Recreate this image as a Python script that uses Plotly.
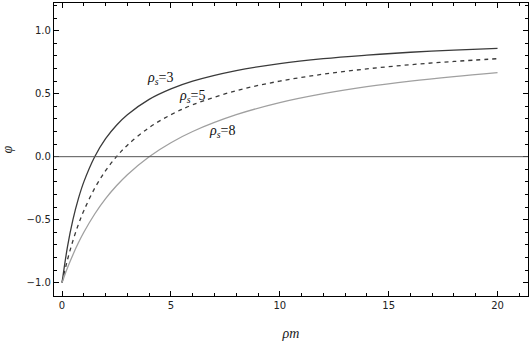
import plotly.graph_objects as go

rho_m = [0, 0.25, 0.5, 0.75, 1, 1.5, 2, 2.5, 3, 4, 5, 6, 8, 10, 12, 14, 16, 18, 20]
phi_rs3 = [-1.0, -0.714, -0.5, -0.333, -0.2, 0.0, 0.143, 0.25, 0.333, 0.455, 0.538, 0.6,
           0.684, 0.739, 0.778, 0.806, 0.829, 0.846, 0.86]
phi_rs5 = [-1.0, -0.818, -0.667, -0.538, -0.429, -0.25, -0.111, 0.0, 0.091, 0.231, 0.333, 0.412,
           0.524, 0.6, 0.655, 0.697, 0.73, 0.756, 0.778]
phi_rs8 = [-1.0, -0.882, -0.778, -0.684, -0.6, -0.455, -0.333, -0.231, -0.143, 0.0, 0.111, 0.2,
           0.333, 0.429, 0.5, 0.556, 0.6, 0.636, 0.667]

labels = ["<i>ρ<sub>s</sub></i>=3", "<i>ρ<sub>s</sub></i>=5", "<i>ρ<sub>s</sub></i>=8"]
label_x = [4.5, 5.95, 7.35]
label_y = [0.622, 0.48, 0.2]

fig = go.Figure()
fig.add_trace(go.Scatter(x=rho_m, y=phi_rs3, mode="lines", line=dict(color="#3a3a3a", width=1.3, shape="spline")))
fig.add_trace(go.Scatter(x=rho_m, y=phi_rs5, mode="lines", line=dict(color="#3a3a3a", width=1.3, dash="4px,4px", shape="spline")))
fig.add_trace(go.Scatter(x=rho_m, y=phi_rs8, mode="lines", line=dict(color="#a0a0a0", width=1.3, shape="spline")))

for t, x, y in zip(labels, label_x, label_y):
    fig.add_annotation(x=x, y=y, text=t, showarrow=False,
                       font=dict(family="Liberation Serif", size=14, color="#111"))

fig.add_hline(y=0, line=dict(color="#555", width=1))

axis_common = dict(showline=True, linecolor="black", linewidth=1.2, mirror="allticks",
                   ticks="inside", ticklen=5, tickcolor="black", showgrid=False, zeroline=False,
                   automargin=False,
                   tickfont=dict(family="DejaVu Sans", size=10, color="#222"))

fig.update_xaxes(range=[-0.37, 21.4], tickvals=[0, 5, 10, 15, 20],
                 minor=dict(dtick=1, tick0=0, ticks="inside", ticklen=3, tickcolor="black"),
                 title=dict(text="<i>ρm</i>", font=dict(family="Liberation Serif", size=14, color="#222"), standoff=18),
                 **axis_common)
fig.update_yaxes(range=[-1.106, 1.22], tickvals=[-1.0, -0.5, 0.0, 0.5, 1.0], tickformat=".1f",
                 minor=dict(dtick=0.1, tick0=0, ticks="inside", ticklen=3, tickcolor="black"),
                 title=dict(text="<i>φ</i>", font=dict(family="Liberation Serif", size=14, color="#222"), standoff=18),
                 **axis_common)

fig.update_layout(width=532, height=347, margin=dict(l=54, r=4, t=3, b=51, autoexpand=False),
                  plot_bgcolor="white", paper_bgcolor="white", showlegend=False)

fig.write_html("out.html", config={"displayModeBar": False},
               post_script="document.body.style.margin='0';")
